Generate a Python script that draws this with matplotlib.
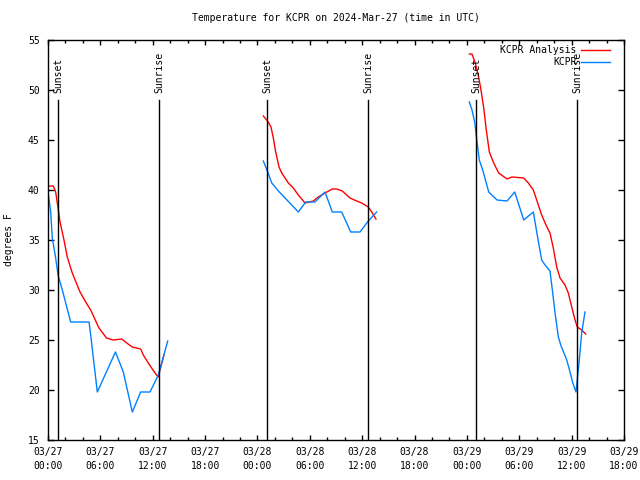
import numpy as np
import matplotlib
matplotlib.use('Agg')
import matplotlib.pyplot as plt

# hours since 03/27 00:00 UTC, temperatures in F
anal_t = [
    [0, 0.61, 0.88, 1.15, 1.38, 1.83, 2.21, 2.78, 3.67, 4.32, 4.89, 5.84, 6.70, 7.48,
     8.45, 9.02, 9.66, 10.62, 10.92, 11.49, 12.26, 12.64, 12.83, 13.29],
    [24.67, 25.24, 25.55, 25.82, 26.09, 26.47, 26.78, 27.54, 28.11, 28.68, 29.45, 30.40,
     30.97, 31.74, 32.58, 33.08, 33.72, 34.60, 35.37, 35.95, 36.70, 37.09, 37.58],
    [48.28, 48.58, 48.96, 49.35, 49.65, 49.93, 50.19, 50.57, 51.07, 51.64, 52.60, 53.17,
     54.51, 55.04, 55.61, 56.07, 56.57, 57.06, 57.52, 57.90, 58.29, 58.67, 59.24, 59.62,
     60.01, 60.39, 60.65, 61.15, 61.61],
]
anal_T = [
    [40.4, 40.4, 39.8, 38.2, 36.8, 35.0, 33.3, 31.7, 29.8, 28.8, 28.0, 26.2, 25.2, 25.0,
     25.1, 24.7, 24.3, 24.1, 23.5, 22.7, 21.7, 21.3, 22.0, 23.5],
    [47.4, 46.8, 46.3, 45.2, 43.8, 42.3, 41.7, 40.7, 40.2, 39.5, 38.7, 38.9, 39.3, 39.7,
     40.1, 40.1, 39.9, 39.2, 38.9, 38.7, 38.3, 37.8, 37.1],
    [53.6, 53.6, 52.7, 51.3, 49.8, 48.2, 46.2, 43.8, 42.7, 41.7, 41.1, 41.3, 41.2, 40.7,
     40.0, 38.8, 37.5, 36.5, 35.7, 34.2, 32.3, 31.2, 30.5, 29.7, 28.3, 27.0, 26.3, 26.0,
     25.6],
]
obs_t = [
    [0, 0.31, 0.49, 0.88, 1.15, 1.64, 2.03, 2.60, 4.70, 4.89, 5.65, 7.73, 8.63, 9.66,
     10.62, 11.69, 12.64, 13.72],
    [24.67, 25.18, 25.64, 26.40, 27.16, 27.93, 28.68, 29.53, 30.59, 31.74, 32.58, 33.65,
     34.69, 35.75, 36.70, 37.66],
    [48.28, 48.58, 48.89, 49.16, 49.42, 49.81, 50.50, 51.45, 52.60, 53.48, 54.51, 55.61,
     56.00, 56.30, 56.57, 56.95, 57.52, 57.79, 58.10, 58.48, 58.75, 59.44, 59.82, 60.13,
     60.50, 60.65, 60.88, 61.15, 61.53],
]
obs_T = [
    [39.8, 37.8, 35.2, 33.2, 31.5, 30.0, 28.7, 26.8, 26.8, 25.5, 19.8, 23.8, 21.8, 17.8,
     19.8, 19.8, 21.5, 24.9],
    [42.9, 41.8, 40.7, 39.9, 39.2, 38.5, 37.8, 38.8, 38.8, 39.8, 37.8, 37.8, 35.8, 35.8,
     36.9, 37.8],
    [48.8, 48.0, 46.8, 44.8, 43.0, 42.0, 39.8, 39.0, 38.9, 39.8, 37.0, 37.8, 35.8, 34.3,
     33.0, 32.5, 31.9, 30.0, 27.7, 25.3, 24.5, 23.0, 21.8, 20.7, 19.8, 21.1, 23.0, 25.7,
     27.8],
]

sun_t = [1.18, 12.77, 25.13, 36.70, 49.08, 60.65]
sun_lbl = ['Sunset', 'Sunrise', 'Sunset', 'Sunrise', 'Sunset', 'Sunrise']

tick_pos = list(range(0, 67, 6))
tick_lbl = ['03/27\n00:00', '03/27\n06:00', '03/27\n12:00', '03/27\n18:00',
            '03/28\n00:00', '03/28\n06:00', '03/28\n12:00', '03/28\n18:00',
            '03/29\n00:00', '03/29\n06:00', '03/29\n12:00', '03/29\n18:00']

RED = '#ff0000'
BLUE = '#0080ff'

plt.rcParams['font.family'] = ['DejaVu Sans Mono']
plt.rcParams['font.size'] = 7

fig = plt.figure(figsize=(6.4, 4.8), dpi=100)
ax = fig.add_axes([48/640, 40/480, 576/640, 400/480])

for tt, TT in zip(anal_t, anal_T):
    ax.plot(tt, TT, color=RED, lw=1.0)
for tt, TT in zip(obs_t, obs_T):
    ax.plot(tt, TT, color=BLUE, lw=1.0)

for st, sl in zip(sun_t, sun_lbl):
    ax.plot([st, st], [15, 49.0], color='black', lw=1.0)
    ax.text(st, 49.7, sl, rotation=90, ha='center', va='bottom', fontsize=7)

ax.set_xlim(0, 66)
ax.set_ylim(15, 55)
ax.set_xticks(tick_pos)
ax.set_xticklabels(tick_lbl, linespacing=1.5)
ax.set_xticks(np.arange(0, 67, 2), minor=True)
ax.set_yticks(range(15, 56, 5))
ax.tick_params(axis='both', direction='in', top=True, right=True, width=1, labelsize=7)
ax.tick_params(axis='y', which='major', length=4.5, pad=6)
ax.tick_params(axis='x', which='major', length=3.5, pad=5)
ax.tick_params(axis='x', which='minor', direction='in', top=True, length=2.5, width=1)
for s in ax.spines.values():
    s.set_linewidth(1)

ax.set_ylabel('degrees F', fontsize=7, labelpad=10)
ax.set_title('Temperature for KCPR on 2024-Mar-27 (time in UTC)', fontsize=7, pad=14)

# key in the top right corner
ax.text(0.918, 0.975, 'KCPR Analysis', transform=ax.transAxes, ha='right', va='center', fontsize=7)
ax.plot([0.925, 0.976], [0.975, 0.975], transform=ax.transAxes, color=RED, lw=1.0)
ax.text(0.918, 0.945, 'KCPR', transform=ax.transAxes, ha='right', va='center', fontsize=7)
ax.plot([0.925, 0.976], [0.945, 0.945], transform=ax.transAxes, color=BLUE, lw=1.0)

fig.savefig('out.png', dpi=100)
